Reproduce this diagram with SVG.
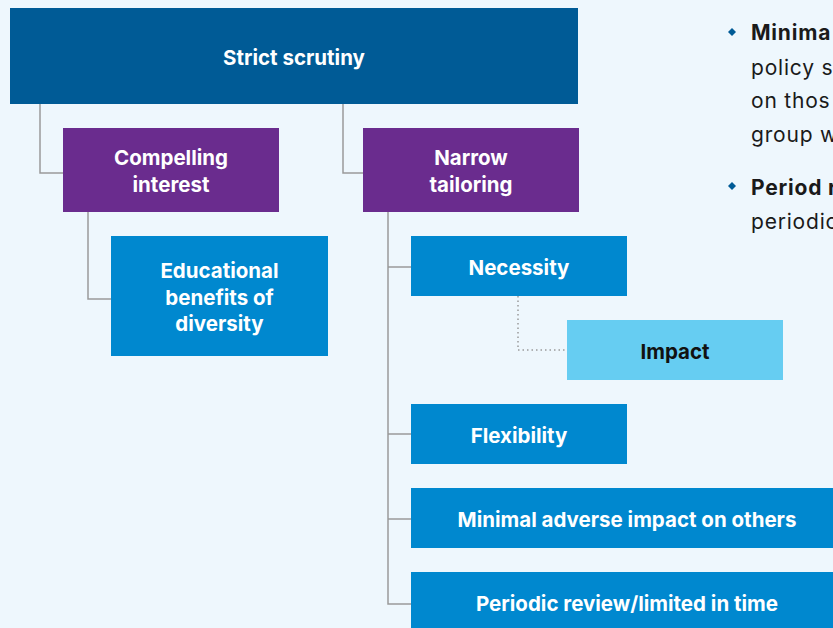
<svg xmlns="http://www.w3.org/2000/svg" width="833" height="628" viewBox="0 0 833 628">
<style>
.t{font-family:Inter,"Noto Sans","Liberation Sans",sans-serif;font-weight:700;font-size:20.5px;fill:#fff;text-anchor:middle;dominant-baseline:central}
.d{fill:#005b96}
.p{fill:#6a2c8e}
.b{fill:#0088cf}
.l{fill:#66cdf2}
.c{fill:none;stroke:#9a9a9a;stroke-width:1.5}
.dot{fill:none;stroke:#9a9a9a;stroke-width:1.5;stroke-dasharray:1.5 3}
.r{font-family:Inter,"Noto Sans","Liberation Sans",sans-serif;font-size:21px;letter-spacing:0.8px;fill:#1a1a1a}
.rb{font-weight:700}
</style>
<rect width="833" height="628" fill="#eef7fd"/>
<g id="connectors">
<path class="c" d="M40 104V173H63"/>
<path class="c" d="M343 104V173H363"/>
<path class="c" d="M88 212V299H111"/>
<path class="c" d="M388 212V604H411M388 267H411M388 434H411M388 519H411"/>
<path class="dot" d="M518 296V350H567"/>
</g>
<g id="strict"><rect class="d" x="10" y="8" width="568" height="96"/><text class="t" x="294" y="57">Strict scrutiny</text></g>
<g id="compelling"><rect class="p" x="63" y="128" width="216" height="84"/><text class="t" x="171" y="157">Compelling</text><text class="t" x="171" y="184">interest</text></g>
<g id="narrow"><rect class="p" x="363" y="128" width="216" height="84"/><text class="t" x="471" y="157">Narrow</text><text class="t" x="471" y="184">tailoring</text></g>
<g id="educational"><rect class="b" x="111" y="236" width="217" height="120"/><text class="t" x="219.5" y="270">Educational</text><text class="t" x="219.5" y="297">benefits of</text><text class="t" x="219.5" y="323">diversity</text></g>
<g id="necessity"><rect class="b" x="411" y="236" width="216" height="60"/><text class="t" x="519" y="267">Necessity</text></g>
<g id="impact"><rect class="l" x="567" y="320" width="216" height="60"/><text class="t" x="675" y="351" style="fill:#111">Impact</text></g>
<g id="flexibility"><rect class="b" x="411" y="404" width="216" height="60"/><text class="t" x="519" y="435">Flexibility</text></g>
<g id="minimal"><rect class="b" x="411" y="488" width="432" height="60"/><text class="t" x="627" y="519">Minimal adverse impact on others</text></g>
<g id="periodic"><rect class="b" x="411" y="572" width="432" height="60"/><text class="t" x="627" y="603">Periodic review/limited in time</text></g>
<g id="notes">
<path class="d" d="M732 28L736 32L732 36L728 32Z"/>
<text class="r rb" x="751" y="40">Minima</text>
<text class="r" x="751" y="75">policy s</text>
<text class="r" x="751" y="108">on thos</text>
<text class="r" x="751" y="142">group w</text>
<path class="d" d="M732 182L736 186L732 190L728 186Z"/>
<text class="r rb" x="751" y="195">Period r</text>
<text class="r" x="751" y="229">periodic</text>
</g>
</svg>
